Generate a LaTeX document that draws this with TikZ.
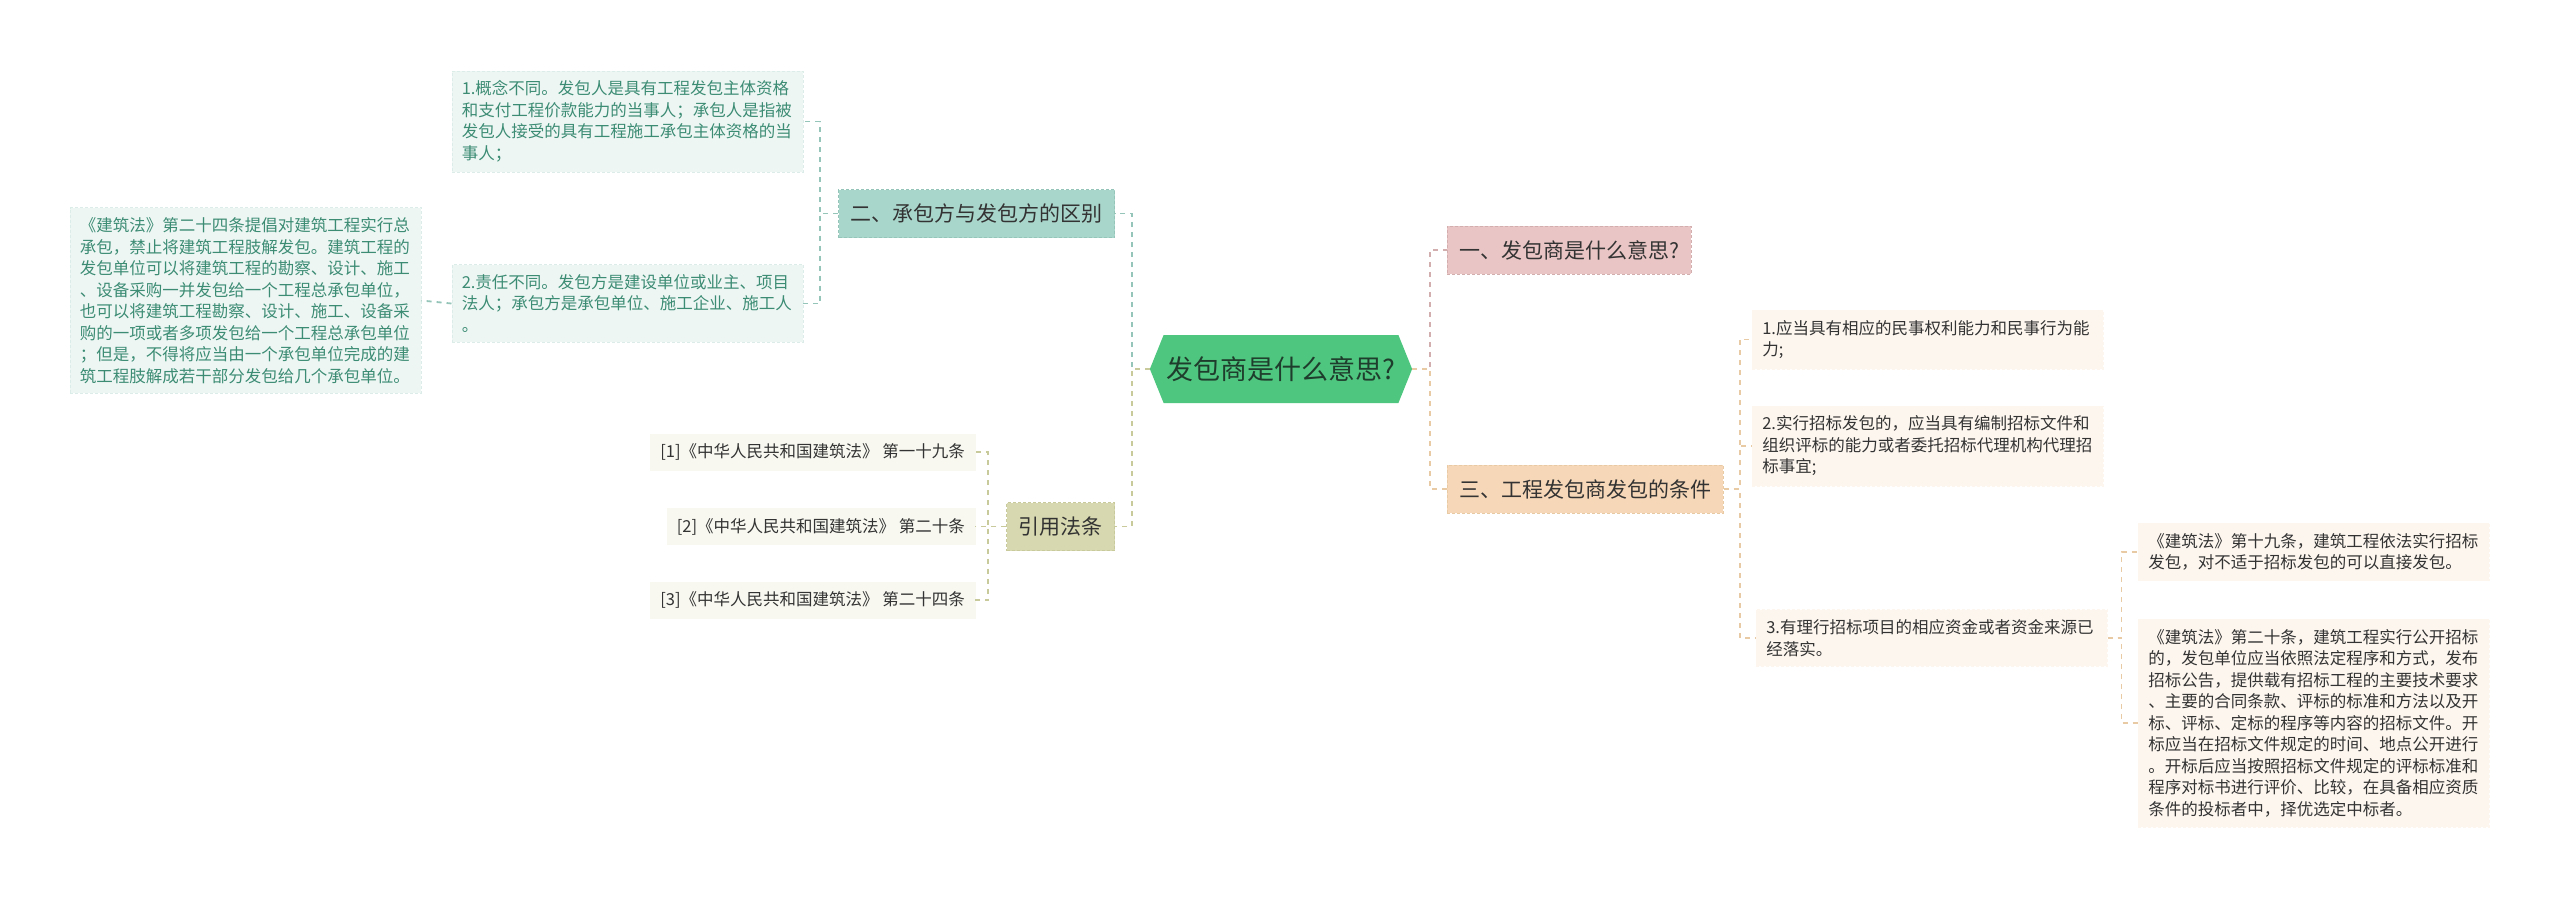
\documentclass[tikz,border=0pt]{standalone}
\usepackage{fontspec}
\setmainfont{Noto Sans CJK SC}
\usetikzlibrary{shapes,arrows}

\definecolor{rootgreen}{HTML}{4FC67F}
\definecolor{roottext}{HTML}{1F3D2C}
\definecolor{tealfill}{HTML}{A9D6CB}
\definecolor{tealleaf}{HTML}{EEF6F4}
\definecolor{tealtext}{HTML}{3C8C73}
\definecolor{tealline}{HTML}{95C5B9}
\definecolor{olivefill}{HTML}{D7D8AF}
\definecolor{oliveline}{HTML}{C9CA9C}
\definecolor{citefill}{HTML}{F8F8F1}
\definecolor{pinkfill}{HTML}{E9C5C5}
\definecolor{pinkline}{HTML}{D3AEAE}
\definecolor{peachfill}{HTML}{F6D7B7}
\definecolor{peachline}{HTML}{E8CAA4}
\definecolor{peachleaf}{HTML}{FDF6EF}
\definecolor{darktext}{HTML}{333333}

\begin{document}
\begin{tikzpicture}[x=1pt, y=-1pt, auto]
    \tikzstyle{topic} = [signal, signal to=west and east, signal pointer angle=136, fill=rootgreen, text=roottext, minimum height=68pt, inner xsep=3pt, font=\fontsize{27}{30}\selectfont]
    \tikzstyle{branch} = [rectangle, draw, dash pattern=on 3pt off 2pt, line width=0.8pt, inner xsep=12pt, minimum height=48pt, text=darktext, font=\fontsize{21}{24}\selectfont]
    \tikzstyle{leaf} = [rectangle, draw, dash pattern=on 3pt off 2pt, line width=0.5pt, text width=331pt, inner xsep=10pt, inner ysep=10pt, align=left, font=\fontsize{16.5}{21.5}\selectfont]
    \tikzstyle{cite} = [rectangle, fill=citefill, draw=citefill, text=darktext, inner xsep=10pt, minimum height=36pt, font=\fontsize{16.5}{20}\selectfont]
    \tikzstyle{link} = [draw, dash pattern=on 5pt off 5pt, line width=1.8pt]

    \useasboundingbox (0,0) rectangle (2560,900);

    \node [topic] (root) at (1281,369) {发包商是什么意思?};

    % left side
    \node [branch, fill=tealfill, draw=tealline, anchor=east] (diff) at (1115,213.5) {二、承包方与发包方的区别};
    \node [leaf, fill=tealleaf, draw=tealleaf!80!tealline, text=tealtext, anchor=east] (concept) at (803,121.5) {1.概念不同。发包人是具有工程发包主体资格\\和支付工程价款能力的当事人；承包人是指被\\发包人接受的具有工程施工承包主体资格的当\\事人；};
    \node [leaf, fill=tealleaf, draw=tealleaf!80!tealline, text=tealtext, anchor=east] (duty) at (803,303.5) {2.责任不同。发包方是建设单位或业主、项目\\法人；承包方是承包单位、施工企业、施工人\\。};
    \node [leaf, fill=tealleaf, draw=tealleaf!80!tealline, text=tealtext, anchor=east] (art24) at (421,300.5) {《建筑法》第二十四条提倡对建筑工程实行总\\承包，禁止将建筑工程肢解发包。建筑工程的\\发包单位可以将建筑工程的勘察、设计、施工\\、设备采购一并发包给一个工程总承包单位，\\也可以将建筑工程勘察、设计、施工、设备采\\购的一项或者多项发包给一个工程总承包单位\\；但是，不得将应当由一个承包单位完成的建\\筑工程肢解成若干部分发包给几个承包单位。};

    \node [branch, fill=olivefill, draw=oliveline, anchor=east] (cites) at (1115,526.5) {引用法条};
    \node [cite, anchor=east] (cite1) at (975,452) {[1]《中华人民共和国建筑法》 第一十九条};
    \node [cite, anchor=east] (cite2) at (975,526.5) {[2]《中华人民共和国建筑法》 第二十条};
    \node [cite, anchor=east] (cite3) at (975,600) {[3]《中华人民共和国建筑法》 第二十四条};

    % right side
    \node [branch, fill=pinkfill, draw=pinkline, anchor=west] (meaning) at (1447,250) {一、发包商是什么意思?};
    \node [branch, fill=peachfill, draw=peachline, anchor=west] (terms) at (1447,489) {三、工程发包商发包的条件};
    \node [leaf, fill=peachleaf, draw=peachleaf, text=darktext, anchor=west] (cond1) at (1752,339.5) {1.应当具有相应的民事权利能力和民事行为能\\力;};
    \node [leaf, fill=peachleaf, draw=peachleaf, text=darktext, anchor=west] (cond2) at (1752,446) {2.实行招标发包的，应当具有编制招标文件和\\组织评标的能力或者委托招标代理机构代理招\\标事宜;};
    \node [leaf, fill=peachleaf, draw=peachleaf, text=darktext, anchor=west] (cond3) at (1756,638) {3.有理行招标项目的相应资金或者资金来源已\\经落实。};
    \node [leaf, fill=peachleaf, draw=peachleaf, text=darktext, anchor=west] (art19) at (2138,552) {《建筑法》第十九条，建筑工程依法实行招标\\发包，对不适于招标发包的可以直接发包。};
    \node [leaf, fill=peachleaf, draw=peachleaf, text=darktext, anchor=west] (art20) at (2138,723) {《建筑法》第二十条，建筑工程实行公开招标\\的，发包单位应当依照法定程序和方式，发布\\招标公告，提供载有招标工程的主要技术要求\\、主要的合同条款、评标的标准和方法以及开\\标、评标、定标的程序等内容的招标文件。开\\标应当在招标文件规定的时间、地点公开进行\\。开标后应当按照招标文件规定的评标标准和\\程序对标书进行评价、比较，在具备相应资质\\条件的投标者中，择优选定中标者。};

    \path [link, tealline] (root.west) -- ++(-18,0) |- (diff.east);
    \path [link, oliveline] (root.west) -- ++(-18,0) |- (cites.east);
    \path [link, tealline] (diff.west) -- ++(-18,0) |- (concept.east);
    \path [link, tealline] (diff.west) -- ++(-18,0) |- (duty.east);
    \path [link, tealline] (duty.west) -- (art24.east);
    \path [link, oliveline] (cites.west) -- ++(-18,0) |- (cite1.east);
    \path [link, oliveline] (cites.west) -- ++(-18,0) |- (cite2.east);
    \path [link, oliveline] (cites.west) -- ++(-18,0) |- (cite3.east);

    \path [link, pinkline] (root.east) -- ++(18,0) |- (meaning.west);
    \path [link, peachline] (root.east) -- ++(18,0) |- (terms.west);
    \path [link, peachline] (terms.east) -- ++(16,0) |- (cond1.west);
    \path [link, peachline] (terms.east) -- ++(16,0) |- (cond2.west);
    \path [link, peachline] (terms.east) -- ++(16,0) |- (cond3.west);
    \path [link, peachline] (cond3.east) -- ++(14,0) |- (art19.west);
    \path [link, peachline] (cond3.east) -- ++(14,0) |- (art20.west);
\end{tikzpicture}
\end{document}
